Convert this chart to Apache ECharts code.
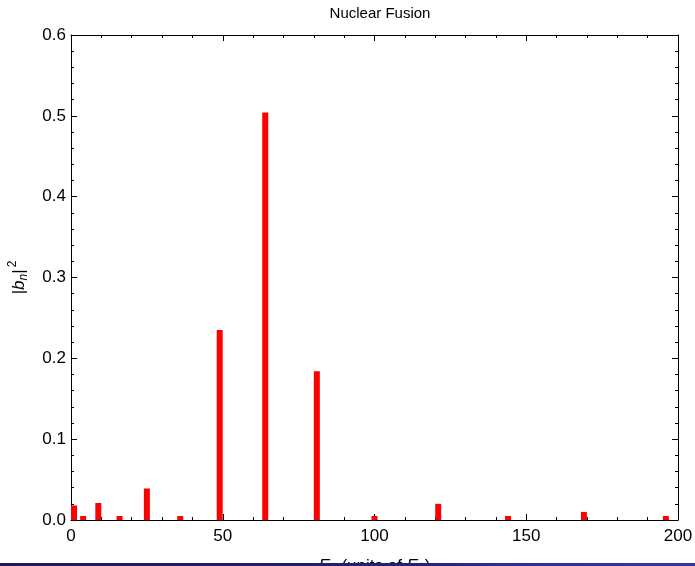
<!doctype html>
<html lang="en">
    <head>
        <meta charset="UTF-8" />
        <title>Nuclear Fusion</title>
        <script src="https://cdn.jsdelivr.net/npm/echarts@6/dist/echarts.min.js"></script>
    </head>
    <body style="margin: 0">
        <!-- Chart container -->
        <div id="main" style="width: 695px; height: 566px"></div>

        <script>
            // Energies E_n = n^2 (units of E_1) and probabilities |b_n|^2
            const energies = [1, 4, 9, 16, 25, 36, 49, 64, 81, 100, 121, 144, 169, 196];
            const probs = [0.018, 0.005, 0.021, 0.005, 0.039, 0.005, 0.235, 0.504, 0.184, 0.005, 0.02, 0.005, 0.01, 0.005];
            const xTicks = [0, 50, 100, 150, 200];
            const yTicks = [0, 0.1, 0.2, 0.3, 0.4, 0.5, 0.6];

            const myChart = echarts.init(document.getElementById("main"));
            const font = "Liberation Sans, Arial, sans-serif";

            const tickStyle = { color: "#000", width: 1 };
            const baseX = {
                type: "value",
                min: xTicks[0],
                max: xTicks[xTicks.length - 1],
                interval: 50,
                splitLine: { show: false },
                axisLine: { onZero: false, lineStyle: { color: "#000" } },
                axisTick: { inside: true, length: 6, lineStyle: tickStyle },
                minorTick: { show: true, splitNumber: 5, length: 3, lineStyle: tickStyle },
            };
            const baseY = {
                type: "value",
                min: yTicks[0],
                max: yTicks[yTicks.length - 1],
                interval: 0.1,
                splitLine: { show: false },
                axisLine: { onZero: false, lineStyle: { color: "#000" } },
                axisTick: { inside: true, length: 6, lineStyle: tickStyle },
                minorTick: { show: true, splitNumber: 5, length: 3, lineStyle: tickStyle },
            };

            const options = {
                animation: false,
                backgroundColor: "#fff",
                title: {
                    text: "Nuclear Fusion",
                    left: 375,
                    top: 1,
                    textAlign: "center",
                    textStyle: { fontFamily: font, fontSize: 15, fontWeight: "normal", color: "#000" },
                },
                grid: { left: 71, right: 17, top: 35, bottom: 46, containLabel: false, outerBoundsMode: "none" },
                xAxis: [
                    Object.assign({}, baseX, {
                        position: "bottom",
                        axisLabel: { color: "#000", fontFamily: font, fontSize: 17, margin: 8 },
                        name: "{i|E}{s|n} (units of {i|E}{s|1})",
                        nameLocation: "middle",
                        nameGap: 36,
                        nameTextStyle: {
                            fontFamily: font,
                            fontSize: 17,
                            color: "#000",
                            verticalAlign: "top",
                            rich: {
                                i: { fontStyle: "italic", fontSize: 17, fontFamily: font },
                                s: { fontSize: 12, fontFamily: font, padding: [8, 0, 0, 0] },
                            },
                        },
                    }),
                    Object.assign({}, baseX, { position: "top", axisLabel: { show: false } }),
                ],
                yAxis: [
                    Object.assign({}, baseY, {
                        position: "left",
                        axisLabel: {
                            color: "#000",
                            fontFamily: font,
                            fontSize: 17,
                            margin: 5,
                            formatter: (v) => v.toFixed(1),
                        },
                        name: "|{i|b}{s|n}|{p|2}",
                        nameLocation: "middle",
                        nameGap: 40,
                        nameRotate: 90,
                        nameTextStyle: {
                            fontFamily: font,
                            fontSize: 17,
                            color: "#000",
                            rich: {
                                i: { fontStyle: "italic", fontSize: 17, fontFamily: font },
                                s: { fontSize: 12, fontStyle: "italic", fontFamily: font, padding: [10, 0, 0, 0] },
                                p: { fontSize: 12, fontFamily: font, padding: [0, 0, 12, 2] },
                            },
                        },
                    }),
                    Object.assign({}, baseY, { position: "right", axisLabel: { show: false } }),
                ],
                series: [
                    {
                        name: "|b_n|^2",
                        type: "bar",
                        barWidth: 6,
                        itemStyle: { color: "#ff0000" },
                        data: energies.map((e, i) => [e, probs[i]]),
                    },
                ],
                // thin slide footer strip along the bottom edge
                graphic: [
                    {
                        type: "rect",
                        z: 100,
                        shape: { x: 0, y: 563, width: 695, height: 3 },
                        style: {
                            fill: new echarts.graphic.LinearGradient(0, 0, 1, 0, [
                                { offset: 0, color: "#1a1a58" },
                                { offset: 0.6, color: "#22227a" },
                                { offset: 0.75, color: "#2e2ea4" },
                                { offset: 1, color: "#3232aa" },
                            ]),
                        },
                    },
                ],
            };

            myChart.setOption(options);
        </script>
    </body>
</html>
